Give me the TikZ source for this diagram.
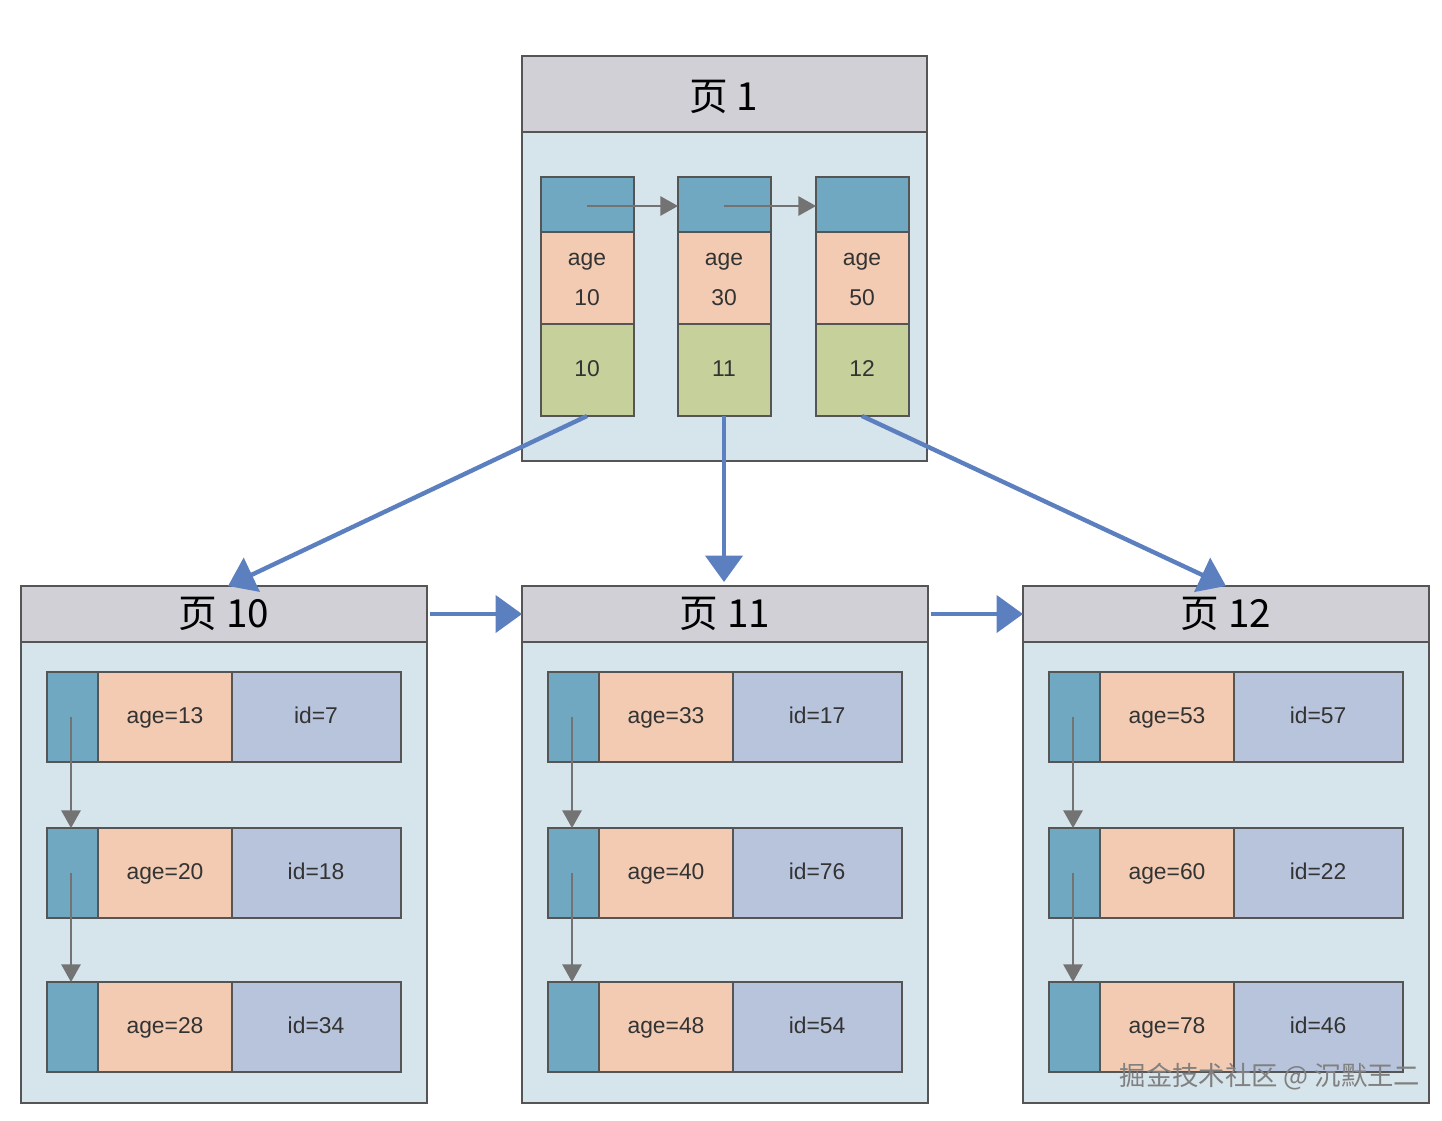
\documentclass[tikz,border=0pt]{standalone}
\usepackage{fontspec}
\setmainfont{Liberation Sans}
\newfontfamily\cjk{Noto Sans CJK SC}
\usetikzlibrary{arrows.meta}
\definecolor{hdr}{HTML}{D0D0D6}
\definecolor{bod}{HTML}{D6E4EC}
\definecolor{bl}{HTML}{6FA8C0}
\definecolor{sal}{HTML}{F2CBB2}
\definecolor{grn}{HTML}{C5D09B}
\definecolor{lil}{HTML}{B8C4DC}
\definecolor{big}{HTML}{5B7FBF}
\definecolor{edge}{HTML}{555555}
\begin{document}
\begin{tikzpicture}[x=0.02cm,y=-0.02cm,
  cell/.style={draw=edge,line width=1pt},
  txt/.style={font=\fontsize{13}{15}\selectfont,text=black!80,text height=9pt,text depth=2pt},
  ttl/.style={font=\cjk\fontsize{22}{26}\selectfont},
  sm/.style={-{Triangle[length=10pt,width=11pt]},draw=gray!90!black,line width=0.8pt},
  bg/.style={-{Triangle[length=15pt,width=21pt]},draw=big,line width=2.5pt}]
\useasboundingbox (0,0) rectangle (1442,1120);
% top page
\fill[bod,draw=edge,line width=1pt] (522,56) rectangle (927,461);
\fill[hdr,draw=edge,line width=1pt] (522,56) rectangle (927,132);
\node[ttl] (t1) at (724,97) {页 1};
\foreach \x/\a/\p [count=\i] in {541/10/10,678/30/11,816/50/12}{
  \draw[cell,fill=bl] (\x,177) rectangle ++(93,55);
  \draw[cell,fill=sal] (\x,232) rectangle ++(93,92);
  \draw[cell,fill=grn] (\x,324) rectangle ++(93,92);
  \node[txt] at (\x+46,259) {age};
  \node[txt] at (\x+46,299) {\a};
  \node[txt] at (\x+46,370) {\p};
  \coordinate (k\i) at (\x+46,416);
  \coordinate (s\i) at (\x+46,206);
  \coordinate (e\i) at (\x,206);
}
\draw[sm] (s1) -- (e2);
\draw[sm] (s2) -- (e3);
% bottom pages
\foreach \px/\nm/\n/\ra/\rb/\rc/\ia/\ib/\ic in {
  21/p10/10/13/20/28/7/18/34,
  522/p11/11/33/40/48/17/76/54,
  1023/p12/12/53/60/78/57/22/46}{
  \fill[bod,draw=edge,line width=1pt] (\px,586) rectangle ++(406,517);
  \fill[hdr,draw=edge,line width=1pt] (\px,586) rectangle ++(406,56);
  \node[ttl] (\nm) at (\px+203,614) {页 \n};
  \foreach \y/\ag/\id in {672/\ra/\ia,828/\rb/\ib,982/\rc/\ic}{
    \draw[cell,fill=bl] (\px+26,\y) rectangle ++(51,90);
    \draw[cell,fill=sal] (\px+77,\y) rectangle ++(134,90);
    \draw[cell,fill=lil] (\px+211,\y) rectangle ++(169,90);
    \node[txt] at (\px+144,\y+45) {age=\ag};
    \node[txt] at (\px+295,\y+45) {id=\id};
  }
  \draw[sm] (\px+50,717) -- (\px+50,828);
  \draw[sm] (\px+50,873) -- (\px+50,982);
}
\coordinate (a10) at (228,586);
\coordinate (a11) at (724,582);
\coordinate (a12) at (1226,586);
\draw[bg] (k1) -- (a10);
\draw[bg] (k2) -- (a11);
\draw[bg] (k3) -- (a12);
\coordinate (h1) at (430,614); \coordinate (h2) at (522,614);
\coordinate (h3) at (931,614); \coordinate (h4) at (1023,614);
\draw[bg] (h1) -- (h2);
\draw[bg] (h3) -- (h4);
\node[font=\cjk\fontsize{15}{18}\selectfont,text=gray] (wm) at (1270,1077) {掘金技术社区 @ 沉默王二};
\end{tikzpicture}
\end{document}
